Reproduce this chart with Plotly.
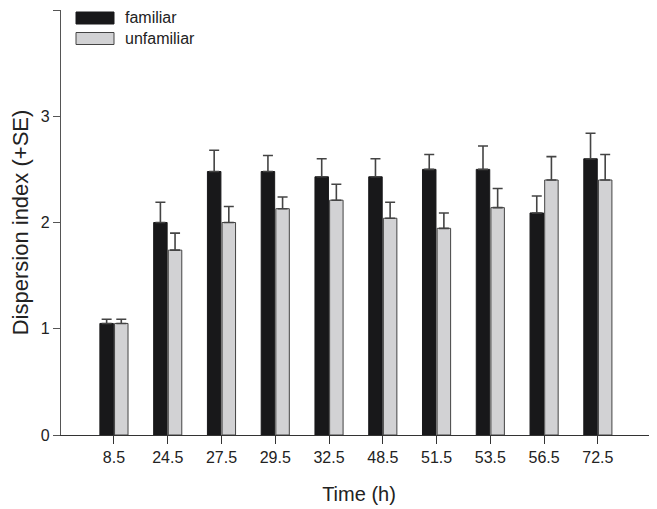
import plotly.graph_objects as go

times = ["8.5", "24.5", "27.5", "29.5", "32.5", "48.5", "51.5", "53.5", "56.5", "72.5"]
familiar = [1.05, 2.00, 2.48, 2.48, 2.43, 2.43, 2.50, 2.50, 2.09, 2.60]
familiar_se = [0.04, 0.19, 0.20, 0.15, 0.17, 0.17, 0.14, 0.22, 0.16, 0.24]
unfamiliar = [1.05, 1.74, 2.00, 2.13, 2.21, 2.04, 1.945, 2.14, 2.40, 2.40]
unfamiliar_se = [0.04, 0.16, 0.15, 0.11, 0.15, 0.15, 0.145, 0.18, 0.22, 0.24]

FONT = "Liberation Sans, Arial, sans-serif"
DARK = "#18181a"
LIGHT = "#d2d2d4"
EDGE = "#444444"

fig = go.Figure()
fig.add_trace(go.Bar(
    x=times, y=familiar, name="familiar",
    marker=dict(color=DARK, line=dict(color=DARK, width=1)),
    error_y=dict(type="data", array=familiar_se, arrayminus=[0] * len(times), symmetric=False,
                 color=EDGE, thickness=1.6, width=5),
    showlegend=False,
))
fig.add_trace(go.Bar(
    x=times, y=unfamiliar, name="unfamiliar",
    marker=dict(color=LIGHT, line=dict(color=EDGE, width=1)),
    error_y=dict(type="data", array=unfamiliar_se, arrayminus=[0] * len(times), symmetric=False,
                 color=EDGE, thickness=1.6, width=5),
    showlegend=False,
))

# custom legend with wide swatches, as in the reference
# plot area on the page: x 61..657, y 10..435
PX0, PW, PY0, PH = 61, 596, 10, 425
legend_items = [("familiar", DARK, DARK), ("unfamiliar", LIGHT, EDGE)]
for i, (label, fill, edge) in enumerate(legend_items):
    top = 12 + i * 20.5
    fig.add_shape(type="rect", xref="paper", yref="paper",
                  x0=(76 - PX0) / PW, x1=(114 - PX0) / PW,
                  y0=1 - (top + 12 - PY0) / PH, y1=1 - (top - PY0) / PH,
                  fillcolor=fill, line=dict(color=edge, width=1))
    fig.add_annotation(text=label, xref="paper", yref="paper",
                       x=(123 - PX0) / PW, y=1 - (top + 6 - PY0) / PH,
                       xanchor="left", yanchor="middle", showarrow=False,
                       font=dict(family=FONT, size=16, color="#222222"))

fig.update_layout(
    width=657, height=501,
    margin=dict(l=53, r=8, t=2, b=74),
    paper_bgcolor="white", plot_bgcolor="white",
    barmode="group", bargap=0.455, bargroupgap=0.08,
    font=dict(family=FONT, size=16, color="#222222"),
    xaxis=dict(
        title=dict(text="Time (h)", font=dict(size=20), standoff=21),
        range=[-0.985, 10.1], showline=True, linecolor="#333333", linewidth=1.2,
        ticks="outside", ticklen=8, tickcolor="#333333", tickwidth=1.2,
        showgrid=False, zeroline=False, tickfont=dict(size=16),
    ),
    yaxis=dict(
        title=dict(text="Dispersion index (+SE)", font=dict(size=22), standoff=16),
        range=[0, 4], tickvals=[0, 1, 2, 3, 4], showline=True, linecolor="#555555",
        linewidth=1.2, ticks="outside", ticklen=7, tickcolor="#555555", tickwidth=1.2,
        showgrid=False, zeroline=False, tickfont=dict(size=16),
    ),
)

fig.write_html("out.html")
